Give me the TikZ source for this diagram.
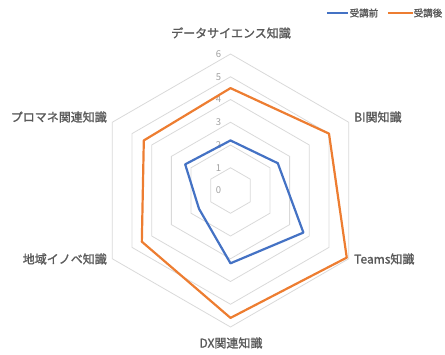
\documentclass[tikz,border=0pt]{standalone}
\usepackage{fontspec}
\setmainfont{Noto Sans CJK JP}[AutoFakeBold=1.5]
\usepackage{tikz}
\usepackage{xcolor}
\usetikzlibrary{positioning}

\definecolor{before}{HTML}{4472C4}
\definecolor{after}{HTML}{ED7D31}
\definecolor{gridgray}{HTML}{D9D9D9}
\definecolor{labelgray}{HTML}{595959}
\definecolor{tickgray}{HTML}{A0A0A0}

\tikzset{
  gridline/.style={draw=gridgray, line width=0.8pt},
  series/.style={line width=2.2pt, line join=round},
  axislabel/.style={text=labelgray, font=\bfseries\fontsize{12}{14}\selectfont, inner sep=0pt},
  ticklabel/.style={text=tickgray, font=\fontsize{9.5}{11}\selectfont, inner sep=0pt},
  legendlabel/.style={text=labelgray, font=\bfseries\fontsize{9.5}{11}\selectfont, inner sep=0pt, anchor=west}
}

\begin{document}
\begin{tikzpicture}[x=1pt, y=1pt]
        \useasboundingbox (-230.5,-163.5) rectangle (214.5,190.5);
        \def\unit{22.75}
        % grid rings
        \foreach \v in {1,...,6}
          \draw[gridline] (90:{\v*\unit}) -- (30:{\v*\unit}) -- (-30:{\v*\unit})
            -- (-90:{\v*\unit}) -- (-150:{\v*\unit}) -- (150:{\v*\unit}) -- cycle;
        \foreach \v in {0,...,6}
          \node[ticklabel] (tick\v) at (-12,{\v*\unit}) {\v};
        % data points
        \foreach \a/\b [count=\i] in {90/2.2, 30/2.4, -30/3.7, -90/3.2, -150/1.6, 150/2.3}
          \coordinate (pre\i) at (\a:{\b*\unit});
        \foreach \a/\b [count=\i] in {90/4.5, 30/5.0, -30/5.9, -90/5.6, -150/4.5, 150/4.4}
          \coordinate (post\i) at (\a:{\b*\unit});
        \draw[series, before] (pre1) -- (pre2) -- (pre3) -- (pre4) -- (pre5) -- (pre6) -- cycle;
        \draw[series, after] (post1) -- (post2) -- (post3) -- (post4) -- (post5) -- (post6) -- cycle;
        % axis labels
        \node[axislabel] (ds) at (0.5,157.5) {データサイエンス知識};
        \node[axislabel, anchor=west] (bi) at (123.5,73.5) {BI関知識};
        \node[axislabel, anchor=west] (teams) at (123.5,-68.5) {Teams知識};
        \node[axislabel] (dx) at (0.5,-152.5) {DX関連知識};
        \node[axislabel, anchor=east] (chiiki) at (-123.5,-68.5) {地域イノベ知識};
        \node[axislabel, anchor=east] (pm) at (-123.5,73.5) {プロマネ関連知識};
        % legend
        \coordinate (keypre0) at (96.5,177.5);
        \coordinate (keypre1) at (117.5,177.5);
        \coordinate (keypost0) at (157.5,177.5);
        \coordinate (keypost1) at (182.5,177.5);
        \draw[series, before] (keypre0) -- (keypre1);
        \draw[series, after] (keypost0) -- (keypost1);
        \node[legendlabel, right=1.5pt of keypre1] (pre) {受講前};
        \node[legendlabel, right=0.5pt of keypost1] (post) {受講後};
      \end{tikzpicture}
\end{document}
